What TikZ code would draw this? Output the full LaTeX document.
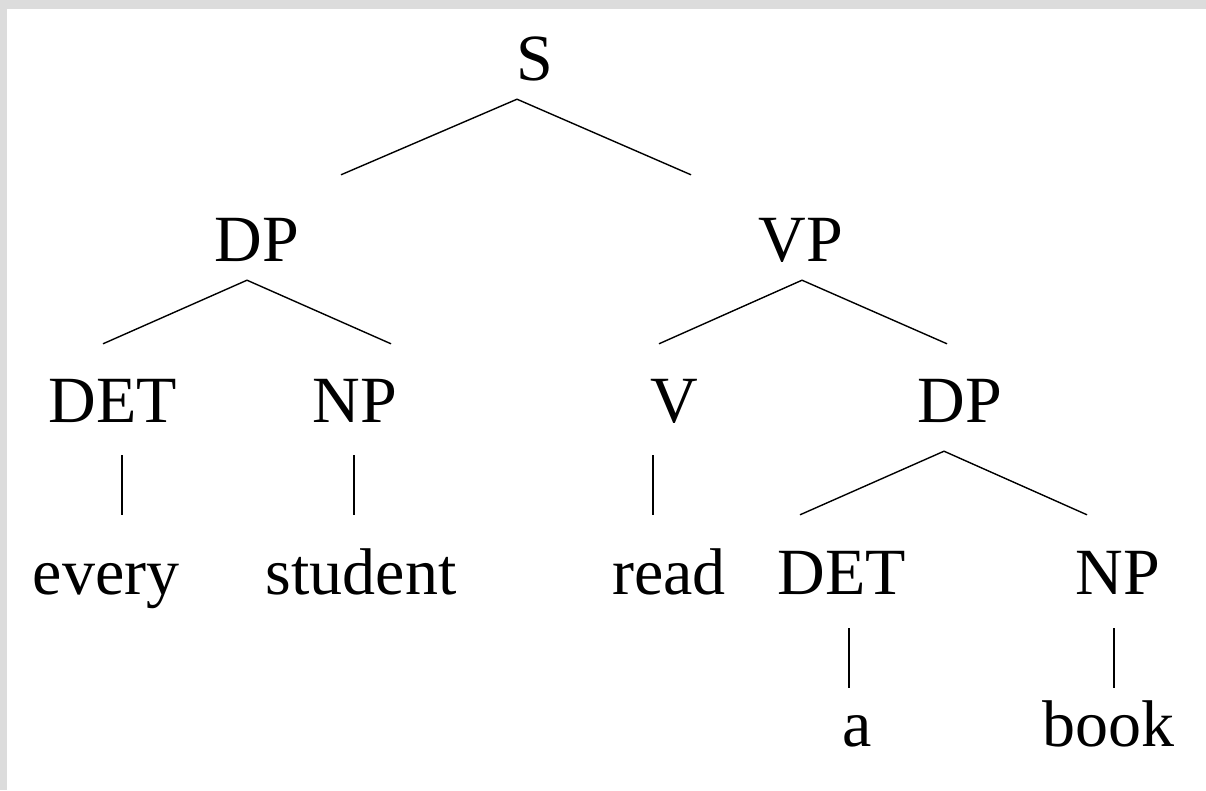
\documentclass[tikz,border=0pt]{standalone}
\usepackage{fontspec}
\setmainfont{Liberation Serif}
\definecolor{framegray}{HTML}{DCDCDC}
\tikzset{
  lbl/.style={anchor=base, inner sep=0pt, font=\fontsize{66pt}{70pt}\selectfont},
  branch/.style={line width=1.4pt}
}
\begin{document}
\begin{tikzpicture}[x=1pt,y=-1pt]
% frame
\fill [framegray] (0,0) rectangle (1206,790);
\fill [white] (7,9) rectangle (1206,790);
\useasboundingbox (0,0) rectangle (1206,790);

% labels
\node [lbl, text depth=19pt] (S) at (535,80) {S};
\node [lbl, text height=86pt, text depth=19pt] (dp) at (257,261) {DP};
\node [lbl, text height=86pt, text depth=19pt] (vp) at (801,261) {VP};
\node [lbl, text height=78pt, text depth=33pt] (det) at (113,422) {DET};
\node [lbl, text height=78pt, text depth=33pt] (np) at (355,422) {NP};
\node [lbl, text height=78pt, text depth=33pt] (v) at (674,422) {V};
\node [lbl, text height=78pt, text depth=29pt] (dpo) at (960,422) {DP};
\node [lbl, text height=79pt] (every) at (106,594) {every};
\node [lbl, text height=79pt] (student) at (361,594) {student};
\node [lbl, text height=79pt] (read) at (669,594) {read};
\node [lbl, text height=79pt, text depth=34pt] (deto) at (842,594) {DET};
\node [lbl, text height=79pt, text depth=34pt] (npo) at (1118,594) {NP};
\node [lbl, text height=58pt] (a) at (857,746) {a};
\node [lbl, text height=58pt] (book) at (1108,746) {book};

% branches
\draw [branch] ([xshift=84pt]dp.north) -- ([xshift=-18pt]S.south) -- ([xshift=-110pt]vp.north);
\draw [branch] ([xshift=-10pt]det.north) -- ([xshift=-10pt]dp.south) -- ([xshift=36pt]np.north);
\draw [branch] ([xshift=-15pt]v.north) -- ([xshift=1pt]vp.south) -- ([xshift=-13pt]dpo.north);
\draw [branch] ([xshift=-42pt]deto.north) -- ([xshift=-16pt]dpo.south) -- ([xshift=-31pt]npo.north);

\draw [branch] ([xshift=9pt]det.south) -- ([xshift=16pt]every.north);
\draw [branch] ([xshift=-1pt]np.south) -- ([xshift=-7pt]student.north);
\draw [branch] ([xshift=-21pt]v.south) -- ([xshift=-16pt]read.north);
\draw [branch] ([xshift=7pt]deto.south) -- ([xshift=-8pt]a.north);
\draw [branch] ([xshift=-4pt]npo.south) -- ([xshift=6pt]book.north);

\end{tikzpicture}
\end{document}
